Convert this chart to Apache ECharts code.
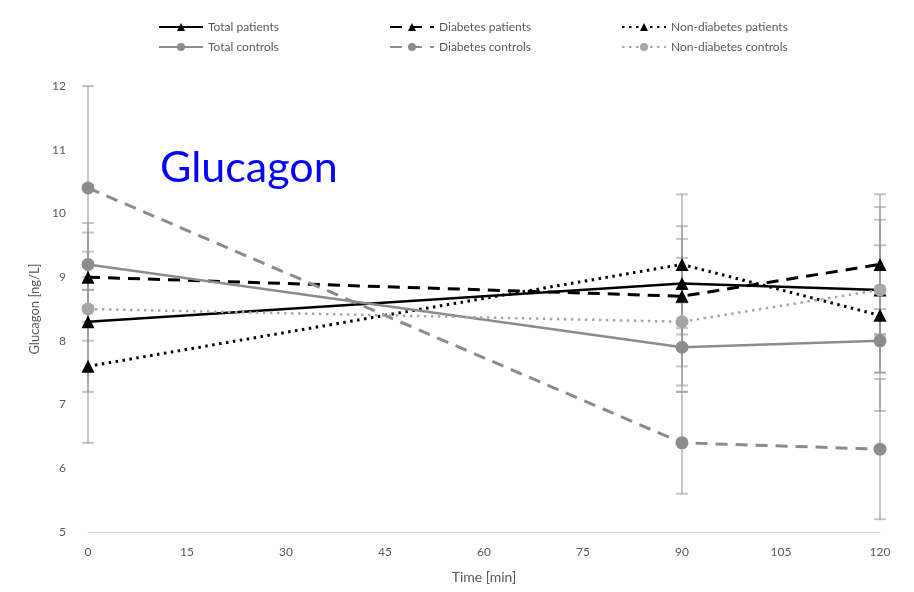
<!DOCTYPE html>
<html>
<head>
<meta charset="utf-8">
<script src="https://cdn.jsdelivr.net/npm/echarts@6/dist/echarts.min.js"></script>
<style>
  html, body { margin: 0; padding: 0; background: #fff; }
  #chart { width: 914px; height: 592px; }
</style>
</head>
<body>
<div id="chart"></div>
<script>
// time points (min)
const times = [0, 90, 120]

// means (ng/L)
const totalPatients = [8.3, 8.9, 8.8]
const diabetesPatients = [9.0, 8.7, 9.2]
const nonDiabetesPatients = [7.6, 9.2, 8.4]
const totalControls = [9.2, 7.9, 8.0]
const diabetesControls = [10.4, 6.4, 6.3]
const nonDiabetesControls = [8.5, 8.3, 8.8]

// error bar half widths
const totalPatientsSd = [1.1, 0.7, 0.7]
const diabetesPatientsSd = [0.7, 1.1, 1.1]
const nonDiabetesPatientsSd = [1.2, 1.1, 1.5]
const totalControlsSd = [0.65, 0.7, 0.5]
const diabetesControlsSd = [1.6, 0.8, 1.1]
const nonDiabetesControlsSd = [0.5, 1.0, 1.3]

const seriesDefs = [
  { name: 'Total patients', data: totalPatients, sd: totalPatientsSd, color: '#000', type: 'solid', symbol: 'triangle', width: 2.5 },
  { name: 'Diabetes patients', data: diabetesPatients, sd: diabetesPatientsSd, color: '#000', type: [12, 8], symbol: 'triangle', width: 3 },
  { name: 'Non-diabetes patients', data: nonDiabetesPatients, sd: nonDiabetesPatientsSd, color: '#000', type: [2.5, 4.5], symbol: 'triangle', width: 3 },
  { name: 'Total controls', data: totalControls, sd: totalControlsSd, color: '#8c8c8c', type: 'solid', symbol: 'circle', width: 2.5 },
  { name: 'Diabetes controls', data: diabetesControls, sd: diabetesControlsSd, color: '#8c8c8c', type: [12, 8], symbol: 'circle', width: 3 },
  { name: 'Non-diabetes controls', data: nonDiabetesControls, sd: nonDiabetesControlsSd, color: '#a6a6a6', type: [2.5, 4.5], symbol: 'circle', width: 2.5 }
]

// legend slots (2 rows x 3 columns)
const legendPos = [
  { left: 153, top: 16 }, { left: 384, top: 16 }, { left: 616, top: 16 },
  { left: 153, top: 36 }, { left: 384, top: 36 }, { left: 616, top: 36 }
]

const chart = echarts.init(document.getElementById('chart'))

const errorData = []
seriesDefs.forEach(s => {
  times.forEach((t, i) => {
    errorData.push([t, s.data[i] - s.sd[i], s.data[i] + s.sd[i]])
  })
})

const series = [{
  type: 'custom',
  name: 'err',
  z: 1,
  silent: true,
  data: errorData,
  encode: { x: 0, y: [1, 2] },
  renderItem: (params, api) => {
    const x = api.value(0)
    const lo = api.coord([x, api.value(1)])
    const hi = api.coord([x, api.value(2)])
    const w = 6
    const style = { stroke: 'rgba(150,150,150,0.55)', lineWidth: 2 }
    return {
      type: 'group',
      children: [
        { type: 'line', shape: { x1: lo[0], y1: lo[1], x2: hi[0], y2: hi[1] }, style },
        { type: 'line', shape: { x1: lo[0] - w, y1: lo[1], x2: lo[0] + w, y2: lo[1] }, style },
        { type: 'line', shape: { x1: hi[0] - w, y1: hi[1], x2: hi[0] + w, y2: hi[1] }, style }
      ]
    }
  }
}]

seriesDefs.forEach(s => {
  series.push({
    name: s.name,
    type: 'line',
    z: 3,
    data: times.map((t, i) => [t, s.data[i]]),
    symbol: s.symbol,
    symbolSize: 13,
    showAllSymbol: true,
    lineStyle: { color: s.color, width: s.width, type: s.type },
    itemStyle: { color: s.color },
    emphasis: { disabled: true }
  })
})

const option = {
  animation: false,
  textStyle: { fontFamily: 'Lato, "Open Sans", sans-serif' },
  legend: seriesDefs.map((s, i) => ({
    data: [s.name],
    left: legendPos[i].left,
    top: legendPos[i].top,
    itemWidth: 44,
    itemHeight: 10,
    itemGap: 4,
    textStyle: { color: '#595959', fontSize: 12 },
    selectedMode: false
  })),
  grid: { left: 88, right: 34, top: 86, bottom: 60 },
  graphic: [{
    type: 'text',
    left: 160,
    top: 147,
    style: { text: 'Glucagon', fill: '#0000ff', font: '43px Lato, "Open Sans", sans-serif' }
  }],
  xAxis: {
    type: 'value',
    min: 0,
    max: 120,
    interval: 15,
    name: 'Time [min]',
    nameLocation: 'middle',
    nameGap: 38,
    nameTextStyle: { color: '#595959', fontSize: 14 },
    axisLine: { show: true, lineStyle: { color: '#d9d9d9', width: 1 } },
    axisTick: { show: false },
    splitLine: { show: false },
    axisLabel: { color: '#595959', fontSize: 12, margin: 14 }
  },
  yAxis: {
    type: 'value',
    min: 5,
    max: 12,
    interval: 1,
    name: 'Glucagon [ng/L]',
    nameLocation: 'middle',
    nameGap: 38,
    nameTextStyle: { color: '#595959', fontSize: 13 },
    axisLine: { show: false },
    axisTick: { show: false },
    splitLine: { show: false },
    axisLabel: { color: '#595959', fontSize: 12, margin: 22 }
  },
  series
}

chart.setOption(option)
</script>
</body>
</html>
